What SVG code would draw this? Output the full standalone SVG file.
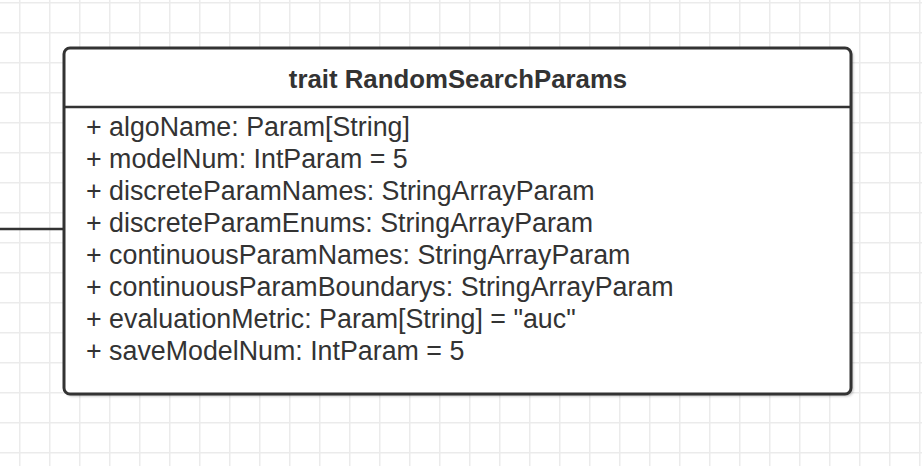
<svg xmlns="http://www.w3.org/2000/svg" width="922" height="466" viewBox="0 0 922 466">
  <defs>
    <pattern id="grid" x="19" y="2" width="30" height="30" patternUnits="userSpaceOnUse">
      <path d="M0.75 0V30M0 0.75H30" fill="none" stroke="#ebebeb" stroke-width="1.5"/>
    </pattern>
    <filter id="shadow" x="-5%" y="-5%" width="110%" height="115%">
      <feGaussianBlur stdDeviation="1.5"/>
    </filter>
  </defs>
  <style>
    .box { fill: #ffffff; stroke: #333333; stroke-width: 3; }
    .edge { fill: none; stroke: #333333; stroke-width: 2.5; }
    .title { font-family: "Liberation Sans", Arial, sans-serif; font-size: 25.8px; font-weight: bold; fill: #333333; }
    .attr { font-family: "Liberation Sans", Arial, sans-serif; font-size: 26.8px; fill: #333333; }
  </style>

  <rect width="922" height="466" fill="#ffffff"/>
  <rect width="922" height="466" fill="url(#grid)"/>

  <g id="connectors">
    <path class="edge" d="M0 229H64"/>
  </g>

  <g id="random-search-params">
    <rect x="66" y="50" width="787" height="346" rx="6" fill="#000000" opacity="0.3" filter="url(#shadow)"/>
    <rect class="box" x="64" y="48" width="787" height="346" rx="6"/>
    <path class="edge" d="M64 107H851" stroke-width="3"/>
    <text class="title" x="458" y="88" text-anchor="middle">trait RandomSearchParams</text>
    <text class="attr" x="86" y="136">+ algoName: Param[String]</text>
    <text class="attr" x="86" y="168">+ modelNum: IntParam = 5</text>
    <text class="attr" x="86" y="200">+ discreteParamNames: StringArrayParam</text>
    <text class="attr" x="86" y="232">+ discreteParamEnums: StringArrayParam</text>
    <text class="attr" x="86" y="264">+ continuousParamNames: StringArrayParam</text>
    <text class="attr" x="86" y="296">+ continuousParamBoundarys: StringArrayParam</text>
    <text class="attr" x="86" y="328">+ evaluationMetric: Param[String] = "auc"</text>
    <text class="attr" x="86" y="360">+ saveModelNum: IntParam = 5</text>
  </g>
</svg>
